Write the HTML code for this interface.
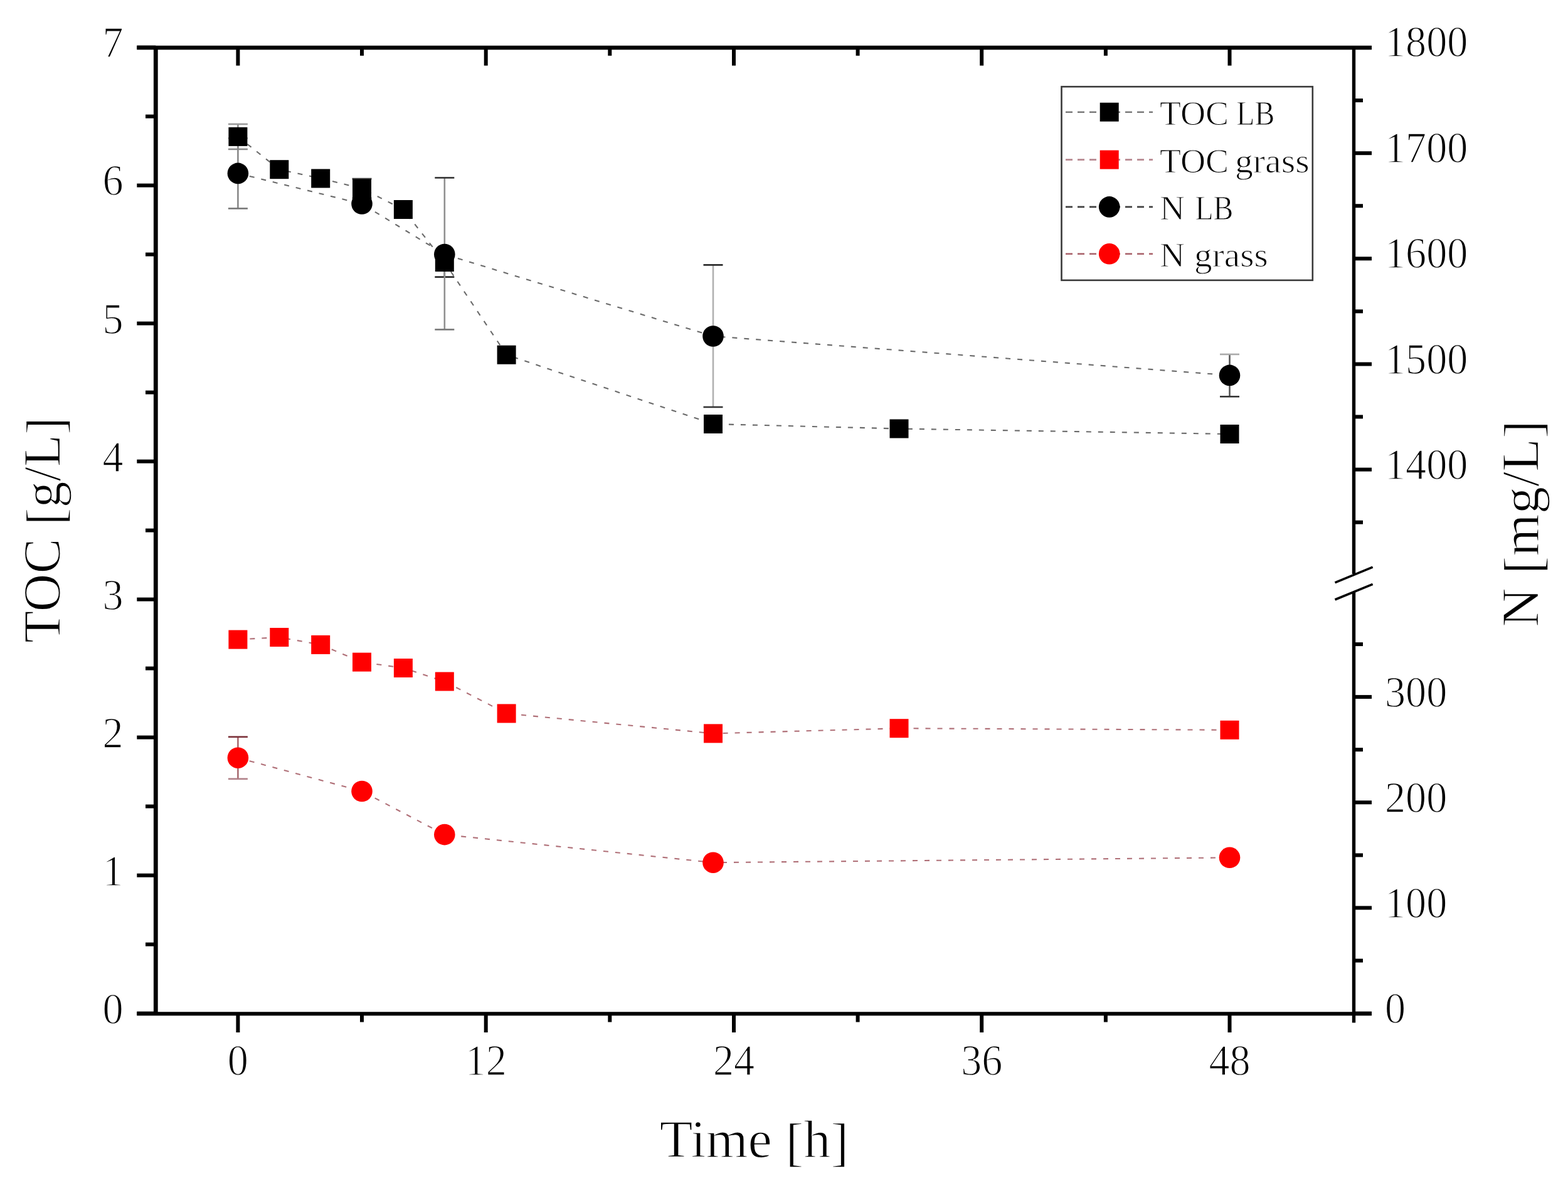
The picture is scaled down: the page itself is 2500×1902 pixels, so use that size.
<!DOCTYPE html>
<html><head><meta charset="utf-8"><title>TOC and N over time</title>
<style>html,body{margin:0;padding:0;background:#fff;}body{width:2500px;height:1902px;overflow:hidden;}svg{display:block;}</style>
</head><body>
<svg width="2500" height="1902" viewBox="0 0 2500 1902">
<rect width="2500" height="1902" fill="#fff"/>
<g fill="none" stroke-width="2.1" stroke-dasharray="8 11">
<polyline points="379.4,217.9 445.3,270.2 511.2,284.5 577.0,300.5 642.9,334.0 708.8,418.0 807.6,565.7 1137.0,676.0 1433.5,683.5 1960.5,692.0" stroke="#6a6a6a"/>
<polyline points="379.4,276.4 577.0,325.0 708.8,405.5 1137.0,536.0 1960.5,598.4" stroke="#6a6a6a"/>
<polyline points="379.4,1019.6 445.3,1016.0 511.2,1027.9 577.0,1055.6 642.9,1065.0 708.8,1086.5 807.6,1137.5 1137.0,1169.4 1433.5,1161.2 1960.5,1163.8" stroke="#b07078"/>
<polyline points="379.4,1208.2 577.0,1261.5 708.8,1330.6 1137.0,1375.2 1960.5,1367.3" stroke="#b07078"/>
</g>
<line x1="379.4" y1="197.9" x2="379.4" y2="237.9" stroke="#8a8a8a" stroke-width="2.6"/><line x1="363.9" y1="197.9" x2="394.9" y2="197.9" stroke="#9a9a9a" stroke-width="2.6"/><line x1="363.9" y1="237.9" x2="394.9" y2="237.9" stroke="#8a8a8a" stroke-width="2.6"/>
<line x1="577.0" y1="285.0" x2="577.0" y2="316.0" stroke="#444" stroke-width="2.6"/><line x1="561.5" y1="285.0" x2="592.5" y2="285.0" stroke="#444" stroke-width="2.6"/><line x1="561.5" y1="316.0" x2="592.5" y2="316.0" stroke="#444" stroke-width="2.6"/>
<line x1="708.8" y1="418" x2="708.8" y2="441.6" stroke="#222" stroke-width="2.6"/><line x1="693.3" y1="441.6" x2="724.3" y2="441.6" stroke="#222" stroke-width="2.6"/>
<line x1="379.4" y1="220.4" x2="379.4" y2="332.4" stroke="#888" stroke-width="2.6"/><line x1="363.9" y1="220.4" x2="394.9" y2="220.4" stroke="#888" stroke-width="2.6"/><line x1="363.9" y1="332.4" x2="394.9" y2="332.4" stroke="#777" stroke-width="2.6"/>
<line x1="708.8" y1="283.4" x2="708.8" y2="525.4" stroke="#909090" stroke-width="2.6"/><line x1="693.3" y1="283.4" x2="724.3" y2="283.4" stroke="#333" stroke-width="2.6"/><line x1="693.3" y1="525.4" x2="724.3" y2="525.4" stroke="#777" stroke-width="2.6"/>
<line x1="1137.0" y1="422.4" x2="1137.0" y2="649.0" stroke="#b0b0b0" stroke-width="2.6"/><line x1="1121.5" y1="422.4" x2="1152.5" y2="422.4" stroke="#222" stroke-width="2.6"/><line x1="1121.5" y1="649.0" x2="1152.5" y2="649.0" stroke="#333" stroke-width="2.6"/>
<line x1="1960.5" y1="564.9" x2="1960.5" y2="632.3" stroke="#555" stroke-width="2.6"/><line x1="1945.0" y1="564.9" x2="1976.0" y2="564.9" stroke="#aaa" stroke-width="2.6"/><line x1="1945.0" y1="632.3" x2="1976.0" y2="632.3" stroke="#333" stroke-width="2.6"/>
<line x1="379.4" y1="1174.8" x2="379.4" y2="1241.8" stroke="#a86a70" stroke-width="2.6"/><line x1="363.9" y1="1174.8" x2="394.9" y2="1174.8" stroke="#7a3038" stroke-width="2.6"/><line x1="363.9" y1="1241.8" x2="394.9" y2="1241.8" stroke="#b08088" stroke-width="2.6"/>
<circle cx="379.4" cy="276.4" r="16.8" fill="#000"/>
<circle cx="577.0" cy="325.0" r="16.8" fill="#000"/>
<circle cx="708.8" cy="405.5" r="16.8" fill="#000"/>
<circle cx="1137.0" cy="536.0" r="16.8" fill="#000"/>
<circle cx="1960.5" cy="598.4" r="16.8" fill="#000"/>
<rect x="364.4" y="202.9" width="30.0" height="30.0" fill="#000"/>
<rect x="430.3" y="255.2" width="30.0" height="30.0" fill="#000"/>
<rect x="496.2" y="269.5" width="30.0" height="30.0" fill="#000"/>
<rect x="562.0" y="285.5" width="30.0" height="30.0" fill="#000"/>
<rect x="627.9" y="319.0" width="30.0" height="30.0" fill="#000"/>
<rect x="693.8" y="403.0" width="30.0" height="30.0" fill="#000"/>
<rect x="792.6" y="550.7" width="30.0" height="30.0" fill="#000"/>
<rect x="1122.0" y="661.0" width="30.0" height="30.0" fill="#000"/>
<rect x="1418.5" y="668.5" width="30.0" height="30.0" fill="#000"/>
<rect x="1945.5" y="677.0" width="30.0" height="30.0" fill="#000"/>
<rect x="364.4" y="1004.6" width="30.0" height="30.0" fill="#f00"/>
<rect x="430.3" y="1001.0" width="30.0" height="30.0" fill="#f00"/>
<rect x="496.2" y="1012.9" width="30.0" height="30.0" fill="#f00"/>
<rect x="562.0" y="1040.6" width="30.0" height="30.0" fill="#f00"/>
<rect x="627.9" y="1050.0" width="30.0" height="30.0" fill="#f00"/>
<rect x="693.8" y="1071.5" width="30.0" height="30.0" fill="#f00"/>
<rect x="792.6" y="1122.5" width="30.0" height="30.0" fill="#f00"/>
<rect x="1122.0" y="1154.4" width="30.0" height="30.0" fill="#f00"/>
<rect x="1418.5" y="1146.2" width="30.0" height="30.0" fill="#f00"/>
<rect x="1945.5" y="1148.8" width="30.0" height="30.0" fill="#f00"/>
<circle cx="379.4" cy="1208.2" r="16.8" fill="#f00"/>
<circle cx="577.0" cy="1261.5" r="16.8" fill="#f00"/>
<circle cx="708.8" cy="1330.6" r="16.8" fill="#f00"/>
<circle cx="1137.0" cy="1375.2" r="16.8" fill="#f00"/>
<circle cx="1960.5" cy="1367.3" r="16.8" fill="#f00"/>
<g stroke="#000" stroke-width="6.0" fill="none">
<line x1="218.3" y1="76.0" x2="2187" y2="76.0" stroke-width="6.4"/>
<line x1="218.3" y1="1616.2" x2="2187" y2="1616.2" stroke-width="6.0"/>
<line x1="248.3" y1="76.0" x2="248.3" y2="1616.2" stroke-width="6.8"/>
<line x1="2158.5" y1="76.0" x2="2158.5" y2="915" stroke-width="5.4"/>
<line x1="2158.5" y1="943" x2="2158.5" y2="1630.5" stroke-width="5.4"/>
</g>
<g stroke="#000" stroke-width="3.6">
<line x1="2128.5" y1="928.8" x2="2188.6" y2="904.2"/>
<line x1="2128.5" y1="956.0" x2="2188.6" y2="931.4"/>
</g>
<g stroke="#000" stroke-width="6.0">
<line x1="218.3" y1="1615.6" x2="248.3" y2="1615.6"/>
<line x1="232" y1="1505.6" x2="248.3" y2="1505.6"/>
<line x1="218.3" y1="1395.6" x2="248.3" y2="1395.6"/>
<line x1="232" y1="1285.6" x2="248.3" y2="1285.6"/>
<line x1="218.3" y1="1175.6" x2="248.3" y2="1175.6"/>
<line x1="232" y1="1065.6" x2="248.3" y2="1065.6"/>
<line x1="218.3" y1="955.6" x2="248.3" y2="955.6"/>
<line x1="232" y1="845.6" x2="248.3" y2="845.6"/>
<line x1="218.3" y1="735.6" x2="248.3" y2="735.6"/>
<line x1="232" y1="625.6" x2="248.3" y2="625.6"/>
<line x1="218.3" y1="515.6" x2="248.3" y2="515.6"/>
<line x1="232" y1="405.6" x2="248.3" y2="405.6"/>
<line x1="218.3" y1="295.6" x2="248.3" y2="295.6"/>
<line x1="232" y1="185.6" x2="248.3" y2="185.6"/>
<line x1="218.3" y1="75.6" x2="248.3" y2="75.6"/>
<line x1="379.4" y1="1616.2" x2="379.4" y2="1646"/>
<line x1="379.4" y1="76.0" x2="379.4" y2="104.6"/>
<line x1="577.0" y1="1616.2" x2="577.0" y2="1629.5"/>
<line x1="577.0" y1="76.0" x2="577.0" y2="88.8"/>
<line x1="774.7" y1="1616.2" x2="774.7" y2="1646"/>
<line x1="774.7" y1="76.0" x2="774.7" y2="104.6"/>
<line x1="972.3" y1="1616.2" x2="972.3" y2="1629.5"/>
<line x1="972.3" y1="76.0" x2="972.3" y2="88.8"/>
<line x1="1170.0" y1="1616.2" x2="1170.0" y2="1646"/>
<line x1="1170.0" y1="76.0" x2="1170.0" y2="104.6"/>
<line x1="1367.6" y1="1616.2" x2="1367.6" y2="1629.5"/>
<line x1="1367.6" y1="76.0" x2="1367.6" y2="88.8"/>
<line x1="1565.2" y1="1616.2" x2="1565.2" y2="1646"/>
<line x1="1565.2" y1="76.0" x2="1565.2" y2="104.6"/>
<line x1="1762.9" y1="1616.2" x2="1762.9" y2="1629.5"/>
<line x1="1762.9" y1="76.0" x2="1762.9" y2="88.8"/>
<line x1="1960.5" y1="1616.2" x2="1960.5" y2="1646"/>
<line x1="1960.5" y1="76.0" x2="1960.5" y2="104.6"/>
<line x1="2158.5" y1="832.7" x2="2173" y2="832.7"/>
<line x1="2158.5" y1="748.6" x2="2187" y2="748.6"/>
<line x1="2158.5" y1="664.5" x2="2173" y2="664.5"/>
<line x1="2158.5" y1="580.5" x2="2187" y2="580.5"/>
<line x1="2158.5" y1="496.4" x2="2173" y2="496.4"/>
<line x1="2158.5" y1="412.3" x2="2187" y2="412.3"/>
<line x1="2158.5" y1="328.2" x2="2173" y2="328.2"/>
<line x1="2158.5" y1="244.2" x2="2187" y2="244.2"/>
<line x1="2158.5" y1="160.1" x2="2173" y2="160.1"/>
<line x1="2158.5" y1="76.0" x2="2187" y2="76.0"/>
<line x1="2158.5" y1="1615.6" x2="2187" y2="1615.6"/>
<line x1="2158.5" y1="1531.5" x2="2173" y2="1531.5"/>
<line x1="2158.5" y1="1447.4" x2="2187" y2="1447.4"/>
<line x1="2158.5" y1="1363.4" x2="2173" y2="1363.4"/>
<line x1="2158.5" y1="1279.3" x2="2187" y2="1279.3"/>
<line x1="2158.5" y1="1195.2" x2="2173" y2="1195.2"/>
<line x1="2158.5" y1="1111.1" x2="2187" y2="1111.1"/>
<line x1="2158.5" y1="1027.1" x2="2173" y2="1027.1"/>
</g>
<g font-family='"Liberation Serif", "DejaVu Serif", serif' fill="#000" stroke="#fff" stroke-width="1.4">
<text transform="translate(196.5,1631.6) scale(0.945,1)" font-size="70" text-anchor="end">0</text>
<text transform="translate(196.5,1411.6) scale(0.945,1)" font-size="70" text-anchor="end">1</text>
<text transform="translate(196.5,1191.6) scale(0.945,1)" font-size="70" text-anchor="end">2</text>
<text transform="translate(196.5,971.6) scale(0.945,1)" font-size="70" text-anchor="end">3</text>
<text transform="translate(196.5,751.6) scale(0.945,1)" font-size="70" text-anchor="end">4</text>
<text transform="translate(196.5,531.6) scale(0.945,1)" font-size="70" text-anchor="end">5</text>
<text transform="translate(196.5,310.6) scale(0.945,1)" font-size="70" text-anchor="end">6</text>
<text transform="translate(196.5,90.6) scale(0.945,1)" font-size="70" text-anchor="end">7</text>
<text transform="translate(2208.0,89.5) scale(0.945,1)" font-size="70" text-anchor="start">1800</text>
<text transform="translate(2208.0,259.1) scale(0.945,1)" font-size="70" text-anchor="start">1700</text>
<text transform="translate(2208.0,427.3) scale(0.945,1)" font-size="70" text-anchor="start">1600</text>
<text transform="translate(2208.0,595.5) scale(0.945,1)" font-size="70" text-anchor="start">1500</text>
<text transform="translate(2208.0,763.6) scale(0.945,1)" font-size="70" text-anchor="start">1400</text>
<text transform="translate(2208.0,1126.6) scale(0.945,1)" font-size="70" text-anchor="start">300</text>
<text transform="translate(2208.0,1294.8) scale(0.945,1)" font-size="70" text-anchor="start">200</text>
<text transform="translate(2208.0,1462.9) scale(0.945,1)" font-size="70" text-anchor="start">100</text>
<text transform="translate(2208.0,1631.1) scale(0.945,1)" font-size="70" text-anchor="start">0</text>
<text transform="translate(379.4,1714.0) scale(0.945,1)" font-size="70" text-anchor="middle">0</text>
<text transform="translate(774.7,1714.0) scale(0.945,1)" font-size="70" text-anchor="middle">12</text>
<text transform="translate(1170.0,1714.0) scale(0.945,1)" font-size="70" text-anchor="middle">24</text>
<text transform="translate(1565.2,1714.0) scale(0.945,1)" font-size="70" text-anchor="middle">36</text>
<text transform="translate(1960.5,1714.0) scale(0.945,1)" font-size="70" text-anchor="middle">48</text>
<text transform="translate(1202.5,1845.2) scale(1.016,1)" font-size="85" text-anchor="middle">Time <tspan dy="4.5">[</tspan><tspan dy="-4.5">h</tspan><tspan dy="4.5">]</tspan></text>
<text transform="translate(96.2,845.0) rotate(-90) scale(0.988,1)" font-size="85" text-anchor="middle">TOC <tspan dy="4.5">[</tspan><tspan dy="-4.5">g/L</tspan><tspan dy="4.5">]</tspan></text>
<text transform="translate(2452.6,835.0) rotate(-90) scale(1.019,1)" font-size="85" text-anchor="middle">N <tspan dy="4.5">[</tspan><tspan dy="-4.5">mg/L</tspan><tspan dy="4.5">]</tspan></text>
</g>
<rect x="1692.5" y="138.2" width="400.3" height="308.6" fill="none" stroke="#3a3a3a" stroke-width="2.6"/>
<line x1="1699" y1="178.7" x2="1838" y2="178.7" stroke="#7a7a7a" stroke-width="2.6" stroke-dasharray="11 8"/>
<rect x="1753.7" y="163.7" width="30.0" height="30.0" fill="#000"/>
<text x="1849" y="198.9" font-family='"Liberation Serif", "DejaVu Serif", serif' font-size="55.6" fill="#000" stroke="#fff" stroke-width="1.12">TOC</text>
<text transform="translate(1971.2,198.9) scale(0.86,1)" font-family='"Liberation Serif", "DejaVu Serif", serif' font-size="55.6" fill="#000" stroke="#fff" stroke-width="1.12">LB</text>
<line x1="1699" y1="254.6" x2="1838" y2="254.6" stroke="#b88890" stroke-width="2.6" stroke-dasharray="11 8"/>
<rect x="1753.7" y="239.6" width="30.0" height="30.0" fill="#f00"/>
<text x="1849" y="274.8" font-family='"Liberation Serif", "DejaVu Serif", serif' font-size="55.6" fill="#000" stroke="#fff" stroke-width="1.12">TOC</text>
<text transform="translate(1968.9,274.8) scale(1.04,1)" font-family='"Liberation Serif", "DejaVu Serif", serif' font-size="55.6" fill="#000" stroke="#fff" stroke-width="1.12">grass</text>
<line x1="1699" y1="329.9" x2="1838" y2="329.9" stroke="#404040" stroke-width="2.6" stroke-dasharray="11 8"/>
<circle cx="1768.7" cy="329.9" r="16.8" fill="#000"/>
<text x="1849" y="350.1" font-family='"Liberation Serif", "DejaVu Serif", serif' font-size="55.6" fill="#000" stroke="#fff" stroke-width="1.12">N</text>
<text transform="translate(1905.4,350.1) scale(0.86,1)" font-family='"Liberation Serif", "DejaVu Serif", serif' font-size="55.6" fill="#000" stroke="#fff" stroke-width="1.12">LB</text>
<line x1="1699" y1="404.8" x2="1838" y2="404.8" stroke="#a86068" stroke-width="2.6" stroke-dasharray="11 8"/>
<circle cx="1768.7" cy="404.8" r="16.8" fill="#f00"/>
<text x="1849" y="425.0" font-family='"Liberation Serif", "DejaVu Serif", serif' font-size="55.6" fill="#000" stroke="#fff" stroke-width="1.12">N</text>
<text transform="translate(1904.1,425.0) scale(1.03,1)" font-family='"Liberation Serif", "DejaVu Serif", serif' font-size="55.6" fill="#000" stroke="#fff" stroke-width="1.12">grass</text>
</svg>
</body></html>
